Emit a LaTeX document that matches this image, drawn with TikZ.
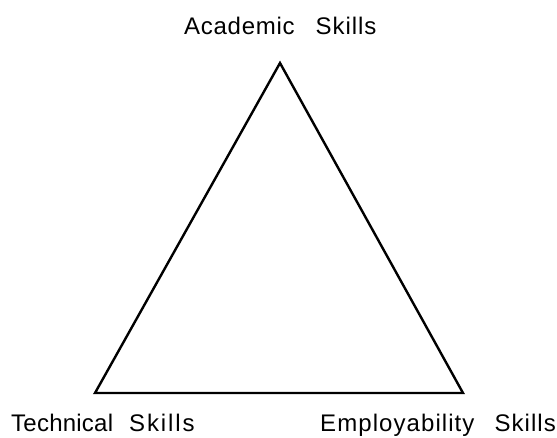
\documentclass[tikz,border=0pt]{standalone}
\usepackage{fontspec}
\setmainfont{Liberation Sans}
% a word set with extra tracking
\newcommand{\trackword}[2]{{\addfontfeature{LetterSpace=#1}#2}}
\begin{document}
\begin{tikzpicture}[x=1pt,y=-1pt,
  corner/.style={inner sep=0pt, font=\fontsize{24}{28}\selectfont},
  edge/.style={line width=2.4pt, line join=miter}]
\useasboundingbox (0,0) rectangle (557,437);
\coordinate (top) at (280,63);
\coordinate (left) at (95,393);
\coordinate (right) at (463,393);
\draw[edge] (top) -- (right) -- (left) -- cycle;
\node[corner, anchor=base west] (acad) at (184,34)
  {\trackword{3}{Academic}\hspace{21pt}\trackword{4}{Skills}};
\node[corner, anchor=base west] (tech) at (11,431)
  {\trackword{1}{Technical}\hspace{16pt}\trackword{8}{Skills}};
\node[corner, anchor=base west] (emp) at (320,431)
  {\trackword{4.5}{Employability}\hspace{20pt}\trackword{4.5}{Skills}};
\end{tikzpicture}
\end{document}
